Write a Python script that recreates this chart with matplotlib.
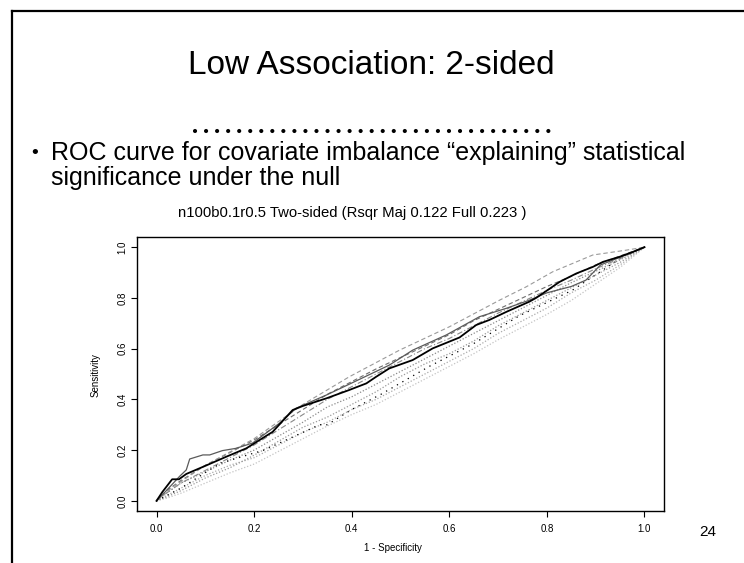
import matplotlib
matplotlib.use("Agg")
import matplotlib.pyplot as plt
from matplotlib.lines import Line2D

plt.rcParams['font.family'] = ['Liberation Sans', 'DejaVu Sans']

W, H = 744, 563

slide_title = "Low Association: 2-sided"
bullet_line1 = "ROC curve for covariate imbalance \u201cexplaining\u201d statistical"
bullet_line2 = "significance under the null"
plot_title = "n100b0.1r0.5 Two-sided (Rsqr Maj 0.122 Full 0.223 )"
x_label = "1 - Specificity"
y_label = "Sensitivity"
page_number = "24"
ticks = [0.0, 0.2, 0.4, 0.6, 0.8, 1.0]
tick_labels = ["0.0", "0.2", "0.4", "0.6", "0.8", "1.0"]

# ROC curves: false-positive rate vs true-positive rate
fpr_main = [0, 0.012, 0.022, 0.032, 0.046, 0.061, 0.10, 0.143, 0.184, 0.238, 0.279,
            0.30, 0.348, 0.395, 0.43, 0.45, 0.477, 0.525, 0.566, 0.621, 0.655, 0.682,
            0.717, 0.764, 0.778, 0.826, 0.86, 0.894, 0.915, 0.949, 0.976, 1.0]
tpr_main = [0, 0.035, 0.06, 0.085, 0.085, 0.106, 0.138, 0.174, 0.207, 0.272, 0.358,
            0.374, 0.404, 0.437, 0.463, 0.489, 0.522, 0.555, 0.601, 0.644, 0.693, 0.713,
            0.745, 0.785, 0.80, 0.863, 0.896, 0.922, 0.942, 0.962, 0.981, 1.0]

fpr_solid2 = [0, 0.02, 0.047, 0.061, 0.068, 0.095, 0.109, 0.135, 0.163, 0.197, 0.252,
              0.286, 0.348, 0.416, 0.477, 0.525, 0.594, 0.662, 0.717, 0.764, 0.80,
              0.85, 0.88, 0.91, 0.95, 1.0]
tpr_solid2 = [0, 0.04, 0.096, 0.122, 0.165, 0.181, 0.181, 0.198, 0.207, 0.228, 0.306,
              0.365, 0.417, 0.479, 0.535, 0.594, 0.654, 0.726, 0.759, 0.791, 0.82,
              0.845, 0.87, 0.93, 0.96, 1.0]

fpr_top = [0, 0.03, 0.10, 0.20, 0.30, 0.395, 0.498, 0.60, 0.703, 0.758, 0.812, 0.894, 0.962, 1.0]
tpr_top = [0, 0.05, 0.14, 0.245, 0.38, 0.489, 0.594, 0.686, 0.791, 0.844, 0.903, 0.969, 0.988, 1.0]

fpr_grid = [0, 0.02, 0.05, 0.10, 0.15, 0.20, 0.25, 0.30, 0.35, 0.40, 0.45,
            0.50, 0.55, 0.60, 0.65, 0.70, 0.75, 0.80, 0.85, 0.90, 0.95, 1.0]
tpr_dash = [0, 0.04, 0.08, 0.14, 0.19, 0.24, 0.30, 0.36, 0.42, 0.47, 0.52,
            0.565, 0.61, 0.655, 0.71, 0.755, 0.80, 0.845, 0.885, 0.93, 0.965, 1.0]
tpr_dashdot = [0, 0.03, 0.07, 0.12, 0.17, 0.22, 0.28, 0.34, 0.40, 0.45, 0.50,
               0.55, 0.60, 0.64, 0.69, 0.74, 0.785, 0.83, 0.87, 0.915, 0.955, 1.0]
tpr_dot_a = [0, 0.015, 0.04, 0.09, 0.13, 0.18, 0.235, 0.29, 0.33, 0.38, 0.43,
             0.49, 0.54, 0.58, 0.63, 0.69, 0.74, 0.79, 0.84, 0.89, 0.94, 1.0]
tpr_dot_b = [0, 0.01, 0.03, 0.07, 0.11, 0.145, 0.195, 0.245, 0.295, 0.34, 0.38,
             0.43, 0.48, 0.53, 0.58, 0.635, 0.685, 0.735, 0.79, 0.855, 0.92, 1.0]
tpr_dot_c = [0, 0.02, 0.05, 0.10, 0.14, 0.17, 0.22, 0.27, 0.31, 0.36, 0.40,
             0.45, 0.50, 0.55, 0.60, 0.66, 0.71, 0.76, 0.82, 0.87, 0.93, 1.0]
tpr_dot_d = [0, 0.03, 0.07, 0.115, 0.16, 0.20, 0.255, 0.31, 0.37, 0.41, 0.46,
             0.51, 0.56, 0.61, 0.66, 0.71, 0.76, 0.81, 0.86, 0.905, 0.95, 1.0]

fpr_dot_black = [0, 0.05, 0.13, 0.22, 0.30, 0.334, 0.35, 0.40, 0.46, 0.559, 0.65, 0.744, 0.852, 0.962, 1.0]
tpr_dot_black = [0, 0.05, 0.148, 0.20, 0.27, 0.30, 0.30, 0.36, 0.42, 0.53, 0.62, 0.73, 0.83, 0.97, 1.0]


def fx(px):
    return px / W


def fy(py):
    return 1 - py / H


fig = plt.figure(figsize=(W / 100, H / 100), dpi=100)
fig.patch.set_facecolor('white')

# slide frame (left and top edges)
fig.add_artist(Line2D([fx(12), fx(12)], [0, fy(11)], color='black', lw=1.6))
fig.add_artist(Line2D([fx(12), 1], [fy(11), fy(11)], color='black', lw=1.6))

fig.text(fx(371), fy(66), slide_title, ha='center', va='center', fontsize=24)

# dotted rule under the title
fig.add_artist(Line2D([fx(195), fx(549)], [fy(131), fy(131)], color='black', lw=3.0,
                      linestyle=(0, (0.01, 2.64)), dash_capstyle='round'))

fig.text(fx(31), fy(153), "\u2022", ha='left', va='center', fontsize=14)
fig.text(fx(51), fy(153), bullet_line1, ha='left', va='center', fontsize=18)
fig.text(fx(51), fy(178), bullet_line2, ha='left', va='center', fontsize=18)

fig.text(fx(352), fy(213), plot_title, ha='center', va='center', fontsize=10.7)
fig.text(fx(708), fy(532), page_number, ha='center', va='center', fontsize=11)

ax = fig.add_axes([fx(137), fy(511), fx(664) - fx(137), fy(237) - fy(511)])
ax.set_xlim(-0.04, 1.04)
ax.set_ylim(-0.04, 1.04)

ax.plot(fpr_grid, tpr_dot_b, color='#c4c4c4', lw=0.9, linestyle=(0, (1, 1.5)))
ax.plot(fpr_grid, tpr_dot_c, color='#ababab', lw=0.9, linestyle=(0, (1, 1.5)))
ax.plot(fpr_grid, tpr_dot_a, color='#9a9a9a', lw=0.9, linestyle=(0, (1, 1.5)))
ax.plot(fpr_grid, tpr_dot_d, color='#8a8a8a', lw=0.9, linestyle=(0, (1, 1.5)))
ax.plot(fpr_dot_black, tpr_dot_black, color='black', lw=0.9, linestyle=(0, (1, 4)))
ax.plot(fpr_grid, tpr_dashdot, color='#888888', lw=0.8, linestyle=(0, (5, 2, 1, 2)))
ax.plot(fpr_grid, tpr_dash, color='#6e6e6e', lw=0.8, linestyle=(0, (4, 2.5)))
ax.plot(fpr_top, tpr_top, color='#9a9a9a', lw=0.8, linestyle=(0, (4, 2.5)))
ax.plot(fpr_solid2, tpr_solid2, color='#5a5a5a', lw=0.9)
ax.plot(fpr_main, tpr_main, color='black', lw=1.3)

for s in ax.spines.values():
    s.set_linewidth(1.0)
ax.set_xticks(ticks)
ax.set_xticklabels(tick_labels, fontsize=7)
ax.set_yticks(ticks)
ax.set_yticklabels(tick_labels, fontsize=7, rotation=90, va='center')
ax.tick_params(axis='x', direction='out', length=4, width=0.8, pad=5)
ax.tick_params(axis='y', direction='out', length=4, width=0.8, pad=3)

fig.text(fx(393), fy(548), x_label, ha='center', va='center', fontsize=7)
fig.text(fx(96), fy(375), y_label, ha='center', va='center', fontsize=7, rotation=90)

fig.savefig("out.png", dpi=100, facecolor='white')
